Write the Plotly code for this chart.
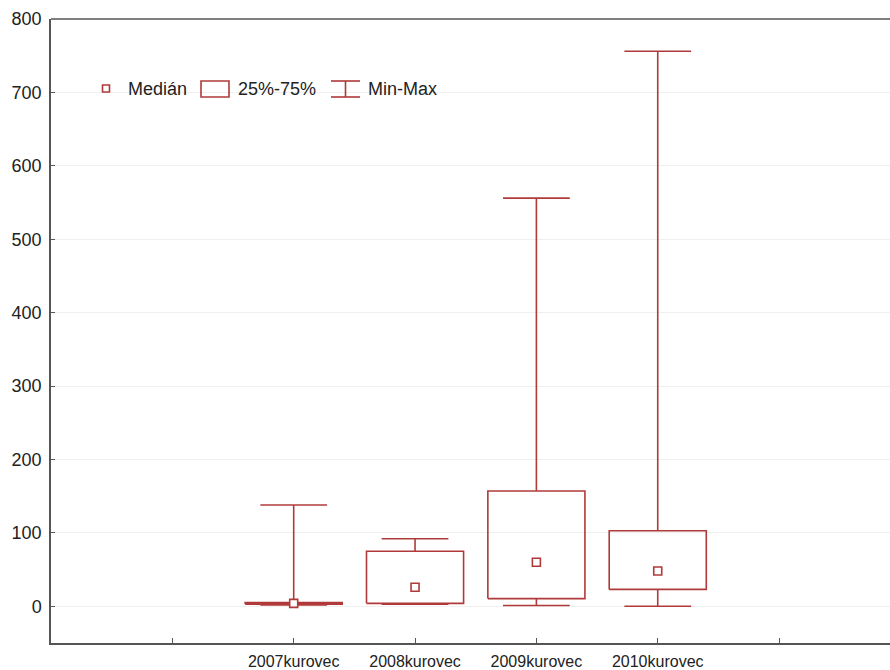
import plotly.graph_objects as go

# ---- data ----
categories = ["2007kurovec", "2008kurovec", "2009kurovec", "2010kurovec"]
minimum = [2, 3, 1, 0]
q1 = [3, 4, 10.5, 23]
median = [4, 26, 60, 48]
q3 = [5, 75, 157, 103]
maximum = [138, 92, 556, 756]
y_ticks = [0, 100, 200, 300, 400, 500, 600, 700, 800]

# ---- style ----
RED = "#b03a3a"
AXIS = "#555555"
TXT = "#222222"
FONT = "Liberation Sans, Arial, sans-serif"
BOX_W = 0.8
CAP_W = 0.55
W, H = 890, 670
ML, MR, MT, MB = 51, 0, 19, 27

pos = list(range(len(categories)))

box_x, box_y, wh_x, wh_y = [], [], [], []
for i, lo, a, b, hi in zip(pos, minimum, q1, q3, maximum):
    h = BOX_W / 2
    box_x += [i - h, i + h, i + h, i - h, i - h, None]
    box_y += [a, a, b, b, a, None]
    c = CAP_W / 2
    wh_x += [i, i, None, i - c, i + c, None, i, i, None, i - c, i + c, None]
    wh_y += [b, hi, None, hi, hi, None, a, lo, None, lo, lo, None]

fig = go.Figure()
fig.add_trace(go.Scatter(x=wh_x, y=wh_y, mode="lines",
                         line=dict(color=RED, width=1.6), hoverinfo="skip",
                         showlegend=False))
fig.add_trace(go.Scatter(x=box_x, y=box_y, mode="lines",
                         line=dict(color=RED, width=1.6), hoverinfo="skip",
                         showlegend=False))
fig.add_trace(go.Scatter(x=pos, y=median, mode="markers",
                         marker=dict(symbol="square", size=8, color="white",
                                     line=dict(color=RED, width=1.6)),
                         showlegend=False))

# ---- legend drawn by hand (pixel -> paper) ----
pw, ph = W - ML - MR, H - MT - MB


def px(x):
    return (x - ML) / pw


def py(y):
    return (H - MB - y) / ph


shapes = [
    # top frame line
    dict(type="line", xref="paper", yref="paper", x0=0, x1=1, y0=1, y1=1,
         line=dict(color=AXIS, width=1.5)),
    # median symbol
    dict(type="rect", xref="paper", yref="paper", x0=px(102.5), x1=px(109.5),
         y0=py(92), y1=py(85), line=dict(color=RED, width=1.6)),
    # box symbol
    dict(type="rect", xref="paper", yref="paper", x0=px(201), x1=px(229),
         y0=py(97), y1=py(81), line=dict(color=RED, width=1.6)),
    # min-max symbol
    dict(type="line", xref="paper", yref="paper", x0=px(331), x1=px(360),
         y0=py(81), y1=py(81), line=dict(color=RED, width=1.6)),
    dict(type="line", xref="paper", yref="paper", x0=px(331), x1=px(360),
         y0=py(97), y1=py(97), line=dict(color=RED, width=1.6)),
    dict(type="line", xref="paper", yref="paper", x0=px(345.5), x1=px(345.5),
         y0=py(81), y1=py(97), line=dict(color=RED, width=1.6)),
]
annotations = []
for label, x in [("Medián", 126), ("25%-75%", 236), ("Min-Max", 366)]:
    annotations.append(dict(text=label, xref="paper", yref="paper", x=px(x),
                            y=py(89), xanchor="left", yanchor="middle",
                            showarrow=False,
                            font=dict(family=FONT, size=18, color=TXT)))

fig.update_layout(
    width=W, height=H,
    margin=dict(l=ML, r=MR, t=MT, b=MB, autoexpand=False),
    paper_bgcolor="white", plot_bgcolor="white",
    shapes=shapes, annotations=annotations,
    showlegend=False,
)
fig.update_xaxes(
    range=[-2, 4.914],
    tickvals=[-1] + pos + [len(categories)],
    ticktext=[""] + categories + [""],
    ticks="inside", ticklen=5, tickcolor=AXIS, tickwidth=1,
    showline=True, linecolor=AXIS, linewidth=1.5,
    showgrid=False, zeroline=False,
    tickfont=dict(family=FONT, size=16, color=TXT),
    ticklabelstandoff=3, automargin=False,
)
fig.update_yaxes(
    range=[-50, 800],
    tickvals=y_ticks,
    ticks="inside", ticklen=4, tickcolor=AXIS, tickwidth=1,
    showline=True, linecolor=AXIS, linewidth=1.5,
    showgrid=True, gridcolor="#f0f0f0", gridwidth=1,
    zeroline=False,
    tickfont=dict(family=FONT, size=18, color=TXT),
    ticklabelstandoff=4, automargin=False,
)

fig.write_html(
    "out.html",
    config={"displayModeBar": False},
    post_script="document.body.style.margin='0px';"
                "document.body.style.overflow='hidden';",
)
